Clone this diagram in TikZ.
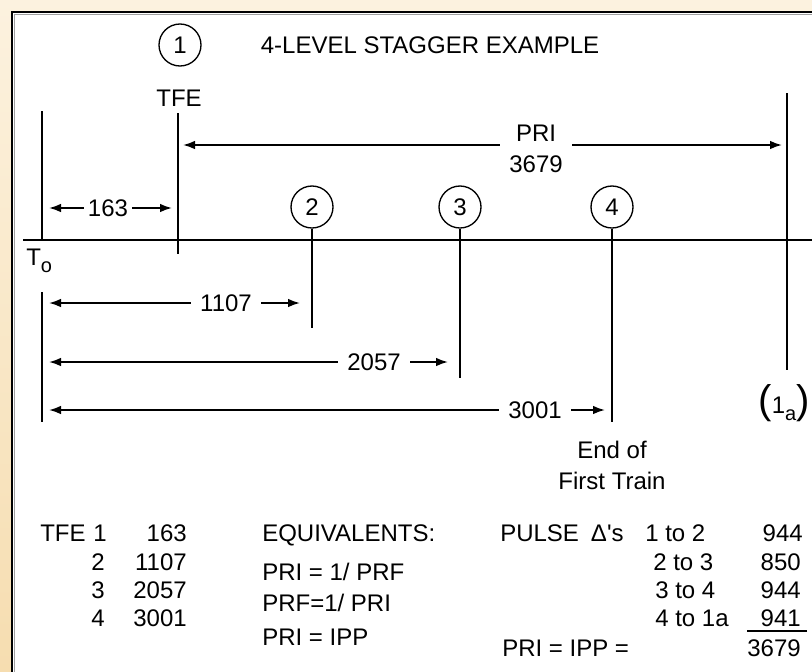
\documentclass[tikz,border=0pt]{standalone}
\usepackage{fontspec}
\setmainfont{Liberation Sans}
\usetikzlibrary{arrows.meta, positioning, calc}
\definecolor{creamtop}{HTML}{FCF2DF}
\definecolor{wheatbot}{HTML}{F6DDB0}
\definecolor{rimgray}{HTML}{A0A0A0}
\newcommand{\lowsub}[1]{\raisebox{-0.55ex}{\fontsize{15}{15}\selectfont #1}}

\begin{document}
\begin{tikzpicture}[x=0.75pt, y=-0.75pt,
    txt/.style={font=\fontsize{18}{23}\selectfont, inner sep=0pt},
    dimlbl/.style={txt, inner xsep=7pt},
    pulse/.style={circle, draw, line width=1pt, minimum size=31.5pt, inner sep=0pt, font=\fontsize{18}{21}\selectfont},
    tickline/.style={line width=1.4pt},
    dim arrow/.style={line width=1.4pt, -{Latex[length=9pt, width=6.5pt]}}]
  \useasboundingbox (0,0) rectangle (812,671);
  \clip (0,0) rectangle (812,671);
  \shade[top color=creamtop, bottom color=wheatbot] (0,0) rectangle (812,671);
  \draw[fill=white, line width=1.6pt] (12,12) rectangle (840,700);
  \draw[rimgray, line width=0.6pt] (14.5,720) -- (14.5,14.5) -- (840,14.5);

  \node[txt] (title) at (430,45) {4-LEVEL STAGGER EXAMPLE};
  \node[pulse] (c1) at (180,45) {1};
  \node[txt] (tfe) at (179,98) {TFE};
  \node[pulse] (c2) at (312,207) {2};
  \node[pulse] (c3) at (460,207) {3};
  \node[pulse] (c4) at (612,207) {4};
  \node[txt, anchor=north west] (t0) at (26,249) {T\lowsub{o}};
  \node[txt] (c1a) at (784,403) {{\fontsize{30}{30}\selectfont(}1\lowsub{a}{\fontsize{30}{30}\selectfont)}};

  \coordinate (axisL) at (23,240);
  \coordinate (axisR) at (830,240);
  \coordinate (t0top) at (42,111);
  \coordinate (t0low) at (42,292);
  \coordinate (t0bot) at (42,422);
  \coordinate (tfetop) at (178,113);
  \coordinate (tfebot) at (178,254);
  \coordinate (c2end) at (312,328);
  \coordinate (c3end) at (460,378);
  \coordinate (c4end) at (612,422);
  \coordinate (prdtop) at (787,93);
  \coordinate (prdbot) at (787,370);

  \draw[tickline] (axisL) -- (axisR);
  \draw[tickline] (t0top) -- (t0top |- axisL);
  \draw[tickline] (t0low) -- (t0bot);
  \draw[tickline] (tfetop) -- (tfebot);
  \draw[tickline] (c2.south) -- (c2end);
  \draw[tickline] (c3.south) -- (c3end);
  \draw[tickline] (c4.south) -- (c4end);
  \draw[tickline] (prdtop) -- (prdbot);

  \node[txt, align=center, inner xsep=7pt] (pri) at (536,149) {PRI\\3679};
  \coordinate (priline) at (536,145);
  \draw[dim arrow] (pri.west |- priline) -- ($(tfetop |- priline)+(5,0)$);
  \draw[dim arrow] (pri.east |- priline) -- ($(prdtop |- priline)+(-5,0)$);

  \node[dimlbl, inner xsep=3pt] (d163) at (108,208) {163};
  \draw[dim arrow] (d163.west) -- ($(d163.west -| t0top)+(7,0)$);
  \draw[dim arrow] (d163.east) -- ($(d163.east -| tfetop)+(-6,0)$);

  \node[dimlbl] (d1107) at (226,303) {1107};
  \draw[dim arrow] (d1107.west) -- ($(d1107.west -| t0top)+(7,0)$);
  \draw[dim arrow] (d1107.east) -- ($(d1107.east -| c2end)+(-12,0)$);

  \node[dimlbl] (d2057) at (374,362) {2057};
  \draw[dim arrow] (d2057.west) -- ($(d2057.west -| t0top)+(7,0)$);
  \draw[dim arrow] (d2057.east) -- ($(d2057.east -| c3end)+(-12,0)$);

  \node[dimlbl] (d3001) at (535,410) {3001};
  \draw[dim arrow] (d3001.west) -- ($(d3001.west -| t0top)+(7,0)$);
  \draw[dim arrow] (d3001.east) -- ($(d3001.east -| c4end)+(-7,0)$);

  \node[txt, align=center, below=14pt of c4end] (endtrain) {End of\\First Train};

  \node[txt, anchor=base west] (tfehead) at (40,541) {TFE};
  \node[txt, anchor=base] (tfen1) at (100,541) {1};
  \node[txt, anchor=base] (tfen2) at (98,570) {2};
  \node[txt, anchor=base] (tfen3) at (98,598) {3};
  \node[txt, anchor=base] (tfen4) at (98,626) {4};
  \node[txt, anchor=base east] (tfev1) at (187,541) {163};
  \node[txt, anchor=base east] (tfev2) at (187,570) {1107};
  \node[txt, anchor=base east] (tfev3) at (187,598) {2057};
  \node[txt, anchor=base east] (tfev4) at (187,626) {3001};

  \node[txt, anchor=base west] (equiv) at (262,541) {EQUIVALENTS:};
  \node[txt, anchor=base west] (eqa) at (262,580) {PRI = 1/ PRF};
  \node[txt, anchor=base west] (eqb) at (262,611) {PRF=1/ PRI};
  \node[txt, anchor=base west] (eqc) at (262,645) {PRI = IPP};

  \node[txt, anchor=base west] (pulsehead) at (500,541) {PULSE\enspace Δ\textquotesingle s};
  \node[txt, anchor=base west] (pair1) at (645,541) {1 to 2};
  \node[txt, anchor=base west] (pair2) at (653,570) {2 to 3};
  \node[txt, anchor=base west] (pair3) at (655,598) {3 to 4};
  \node[txt, anchor=base west] (pair4) at (655,626) {4 to 1a};
  \node[txt, anchor=base east] (gap1) at (803,541) {944};
  \node[txt, anchor=base east] (gap2) at (801,570) {850};
  \node[txt, anchor=base east] (gap3) at (801,598) {944};
  \node[txt, anchor=base east] (gap4) at (801,626) {941};
  \draw[line width=1.2pt] ($(gap4.base east)+(6,5)$) -- ($(gap4.base east)+(-54,5)$);
  \node[txt, anchor=base west] (prisum) at (502,656) {PRI = IPP =};
  \node[txt, anchor=base east] (total) at (801,656) {3679};
\end{tikzpicture}
\end{document}
